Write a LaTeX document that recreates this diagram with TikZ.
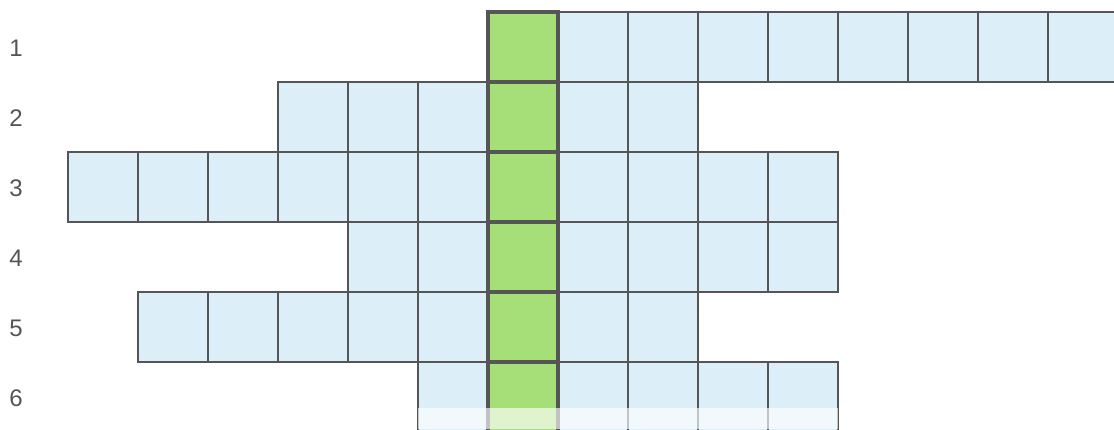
\documentclass[tikz,border=0pt]{standalone}
\usepackage{fontspec}
\setmainfont{Liberation Sans}
\definecolor{cellblue}{HTML}{DCEFF8}
\definecolor{cellgreen}{HTML}{A6DF78}
\definecolor{gridgray}{HTML}{555555}
\tikzset{
  cell/.style={fill=cellblue,draw=gridgray,line width=2.2pt},
  keycell/.style={fill=cellgreen,draw=gridgray,line width=4.2pt},
  num/.style={text=gridgray,font=\fontsize{24}{28}\selectfont}
}
\begin{document}
\begin{tikzpicture}[x=1pt,y=-1pt]
  \useasboundingbox (0,0) rectangle (1114,429);
  \clip (0,0) rectangle (1114,429);
  % row / first column / last column (column 0 is the green one)
  \foreach \r/\a/\b in {1/0/8,2/-3/2,3/-6/4,4/-2/4,5/-5/2,6/-1/4}
    \foreach \k in {\a,...,\b}
      \draw[cell] ({488+70*\k},{12+70*(\r-1)}) rectangle ++(70,70);
  \foreach \r in {1,...,6}
    \draw[keycell] (488,{12+70*(\r-1)}) rectangle ++(70,70);
  \foreach \r in {1,...,6}
    \node[num] (n\r) at (16,{48+70*(\r-1)}) {\r};
  % faded bottom strip
  \fill[white,opacity=0.65] (418,408) rectangle (838,429);
\end{tikzpicture}
\end{document}
